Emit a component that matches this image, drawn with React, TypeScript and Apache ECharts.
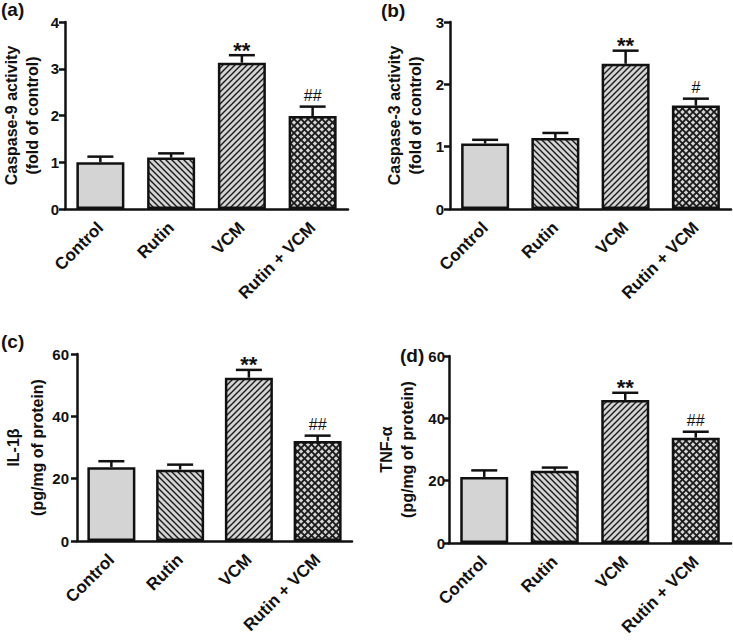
import React, { useEffect, useRef } from "react";
import * as echarts from "echarts";

const categories = ["Control", "Rutin", "VCM", "Rutin + VCM"];

const casp9Mean = [1.0, 1.1, 3.13, 1.99];
const casp9Err = [1.12, 1.19, 3.29, 2.19];
const casp3Mean = [1.05, 1.14, 2.33, 1.66];
const casp3Err = [1.11, 1.22, 2.54, 1.77];
const il1bMean = [23.7, 22.9, 52.4, 32.1];
const il1bErr = [25.6, 24.5, 54.9, 33.8];
const tnfMean = [21.2, 23.2, 45.9, 33.8];
const tnfErr = [23.3, 24.2, 48.2, 35.7];

const casp9Marks = ["", "", "**", "##"];
const casp3Marks = ["", "", "**", "#"];
const il1bMarks = ["", "", "**", "##"];
const tnfMarks = ["", "", "**", "##"];

const panelLabels = ["(a)", "(b)", "(c)", "(d)"];
const yNames = [
  "Caspase-9 activity\n(fold of control)",
  "Caspase-3 activity\n(fold of control)",
  "IL-1β\n(pg/mg of protein)",
  "TNF-α\n(pg/mg of protein)",
];
const yMax = [4, 3, 60, 60];
const yInterval = [1, 1, 20, 20];

const FONT = "'Liberation Sans', Arial, sans-serif";
const INK = "#111111";
const FILL = "#d4d4d4";

function makePattern(kind: string) {
  const s = kind === "cross" ? 7 : 6;
  const c = document.createElement("canvas");
  c.width = s;
  c.height = s;
  const ctx = c.getContext("2d")!;
  ctx.fillStyle = FILL;
  ctx.fillRect(0, 0, s, s);
  ctx.strokeStyle = "#1a1a1a";
  ctx.lineWidth = kind === "cross" ? 1.8 : 1.4;
  ctx.lineCap = "square";
  const back = () => {
    ctx.beginPath();
    ctx.moveTo(-1, -1);
    ctx.lineTo(s + 1, s + 1);
    ctx.moveTo(s - 1, -1);
    ctx.lineTo(s + 1, 1);
    ctx.moveTo(-1, s - 1);
    ctx.lineTo(1, s + 1);
    ctx.stroke();
  };
  const fwd = () => {
    ctx.beginPath();
    ctx.moveTo(-1, s + 1);
    ctx.lineTo(s + 1, -1);
    ctx.moveTo(-1, 1);
    ctx.lineTo(1, -1);
    ctx.moveTo(s - 1, s + 1);
    ctx.lineTo(s + 1, s - 1);
    ctx.stroke();
  };
  if (kind === "back") back();
  if (kind === "fwd") fwd();
  if (kind === "cross") {
    back();
    fwd();
  }
  return { image: c, repeat: "repeat", imageWidth: s, imageHeight: s } as any;
}

export default function App() {
  const ref = useRef<HTMLDivElement>(null);
  useEffect(() => {
    document.body.style.margin = "0";
    const chart = echarts.init(ref.current!, null, { renderer: "svg" });
    const fills = [FILL, makePattern("back"), makePattern("fwd"), makePattern("cross")];

    const grids = [
      { left: 65, top: 22, width: 283, height: 187 },
      { left: 450, top: 22, width: 281, height: 187 },
      { left: 71, top: 354, width: 281, height: 187 },
      { left: 449, top: 356, width: 282, height: 187 },
    ];
    const labelMargins = [6, 6, 8, 4];
    const nameGaps = [22, 24, 28, 31];
    const nameLineHeights = [21, 21, 24, 21];
    const means = [casp9Mean, casp3Mean, il1bMean, tnfMean];
    const errs = [casp9Err, casp3Err, il1bErr, tnfErr];
    const marks = [casp9Marks, casp3Marks, il1bMarks, tnfMarks];

    const xAxis: any[] = [];
    const yAxis: any[] = [];
    const series: any[] = [];
    grids.forEach((g, i) => {
      xAxis.push({
        type: "category",
        gridIndex: i,
        data: categories,
        axisLine: { lineStyle: { color: INK, width: 2.5 } },
        axisTick: { alignWithLabel: true, length: 6, lineStyle: { color: INK, width: 2.5 } },
        axisLabel: {
          rotate: 45,
          margin: 16,
          color: INK,
          fontFamily: FONT,
          fontWeight: "bold",
          fontSize: 17,
          interval: 0,
        },
      });
      yAxis.push({
        type: "value",
        gridIndex: i,
        min: 0,
        max: yMax[i],
        interval: yInterval[i],
        splitLine: { show: false },
        axisLine: { show: true, lineStyle: { color: INK, width: 2.5 } },
        axisTick: { show: true, length: 6, lineStyle: { color: INK, width: 2.5 } },
        axisLabel: { color: INK, fontFamily: FONT, fontWeight: "bold", fontSize: 15, margin: labelMargins[i] },
        name: yNames[i],
        nameLocation: "middle",
        nameGap: nameGaps[i],
        nameMoveOverlap: false,
        nameTextStyle: {
          color: INK,
          fontFamily: FONT,
          fontWeight: "bold",
          fontSize: 16,
          lineHeight: nameLineHeights[i],
        },
      });
      series.push({
        type: "bar",
        xAxisIndex: i,
        yAxisIndex: i,
        barWidth: 48,
        data: means[i].map((v, k) => ({
          value: v,
          itemStyle: { color: fills[k], borderColor: INK, borderWidth: 2.5 },
        })),
      });
      series.push({
        type: "custom",
        xAxisIndex: i,
        yAxisIndex: i,
        z: 5,
        data: means[i].map((v, k) => [k, v, errs[i][k]]),
        renderItem: (params: any, api: any) => {
          const k = api.value(0);
          const base = api.coord([k, api.value(1)]);
          const top = api.coord([k, api.value(2)]);
          const mk = marks[i][k];
          const isStar = mk.indexOf("*") >= 0;
          const children: any[] = [
            {
              type: "line",
              shape: { x1: top[0], y1: base[1], x2: top[0], y2: top[1] },
              style: { stroke: INK, lineWidth: 2.5 },
            },
            {
              type: "line",
              shape: { x1: top[0] - 13, y1: top[1], x2: top[0] + 13, y2: top[1] },
              style: { stroke: INK, lineWidth: 2.5 },
            },
          ];
          if (mk) {
            children.push({
              type: "text",
              x: top[0],
              y: isStar ? top[1] + 6 : top[1] - 3,
              style: {
                text: mk,
                align: "center",
                verticalAlign: "bottom",
                fill: INK,
                fontFamily: FONT,
                fontWeight: isStar ? "bold" : "normal",
                fontSize: isStar ? 22 : 16,
              },
            });
          }
          return { type: "group", children };
        },
      });
    });

    const panelPos = [
      [1, 0],
      [381, 1],
      [1, 332],
      [400, 346],
    ];
    const graphic = panelLabels.map((t, i) => ({
      type: "text",
      left: panelPos[i][0],
      top: panelPos[i][1],
      style: { text: t, fill: INK, fontFamily: FONT, fontWeight: "bold", fontSize: 19 },
    }));

    chart.setOption({
      animation: false,
      backgroundColor: "#ffffff",
      grid: grids.map((g) => ({ ...g, containLabel: false })),
      xAxis,
      yAxis,
      series,
      graphic,
    });
    return () => chart.dispose();
  }, []);
  return <div ref={ref} style={{ width: 733, height: 641 }} />;
}
